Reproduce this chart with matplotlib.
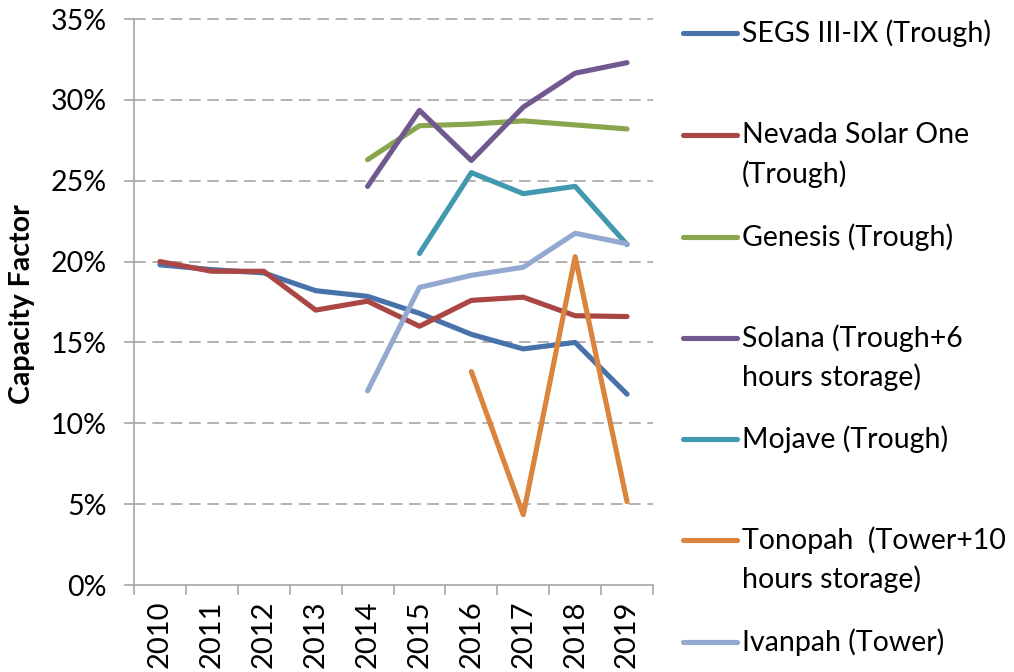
import matplotlib
matplotlib.use("Agg")
import matplotlib.pyplot as plt
from matplotlib.lines import Line2D
import numpy as np

plt.rcParams['font.family'] = ['Lato', 'DejaVu Sans']

years = ["2010", "2011", "2012", "2013", "2014", "2015", "2016", "2017", "2018", "2019"]
nan = np.nan
segs = [19.8, 19.5, 19.3, 18.2, 17.85, 16.8, 15.5, 14.6, 15.0, 11.8]
nevada = [20.0, 19.4, 19.4, 17.0, 17.55, 16.0, 17.6, 17.8, 16.65, 16.6]
genesis = [nan, nan, nan, nan, 26.3, 28.4, 28.5, 28.7, 28.45, 28.2]
solana = [nan, nan, nan, nan, 24.65, 29.35, 26.25, 29.55, 31.65, 32.3]
mojave = [nan, nan, nan, nan, nan, 20.5, 25.5, 24.2, 24.65, 21.05]
tonopah = [nan, nan, nan, nan, nan, nan, 13.2, 4.35, 20.3, 5.15]
ivanpah = [nan, nan, nan, nan, 12.0, 18.4, 19.15, 19.65, 21.75, 21.1]

series = [
    (segs, "#4773AA", ["SEGS III-IX (Trough)"]),
    (nevada, "#AA4643", ["Nevada Solar One", "(Trough)"]),
    (genesis, "#89A54E", ["Genesis (Trough)"]),
    (solana, "#71588F", ["Solana (Trough+6", "hours storage)"]),
    (mojave, "#4198AF", ["Mojave (Trough)"]),
    (tonopah, "#DB843D", ["Tonopah  (Tower+10", "hours storage)"]),
    (ivanpah, "#93A9CF", ["Ivanpah (Tower)"]),
]

W, H = 1014, 672
fig = plt.figure(figsize=(W / 100, H / 100), dpi=100)
left, right, top, bottom = 134, 653, 19, 585
ax = fig.add_axes([left / W, 1 - bottom / H, (right - left) / W, (bottom - top) / H])

x = np.arange(len(years))
for vals, col, _ in series:
    ax.plot(x, np.array(vals, dtype=float) / 100.0, color=col, lw=3.7,
            solid_capstyle='round', solid_joinstyle='round', zorder=3)

grid_col = "#A6A6A6"
ax.set_xlim(-0.5, len(years) - 0.5)
ax.set_ylim(0, 0.35)
yt = np.arange(0, 0.351, 0.05)
ax.set_yticks(yt)
ax.set_yticklabels([f"{int(round(v*100))}%" for v in yt], fontsize=20.5)
for v in yt[1:]:
    ax.axhline(v, color=grid_col, lw=1.2, ls=(0, (7, 4)), zorder=1, clip_on=False)

ax.set_xticks(x)
ax.set_xticklabels(years, rotation=90, fontsize=21)
ax.set_xticks(np.arange(-0.5, len(years), 1.0), minor=True)
ax.tick_params(axis='x', which='major', length=0, pad=11)
ax.tick_params(axis='x', which='minor', length=7, width=1.2, color=grid_col)
ax.tick_params(axis='y', length=7, width=1.2, color=grid_col, pad=12.5)

for s in ["top", "right"]:
    ax.spines[s].set_visible(False)
for s in ["left", "bottom"]:
    ax.spines[s].set_color(grid_col)
    ax.spines[s].set_linewidth(1.2)

fig.text(22 / W, 1 - 304 / H, "Capacity Factor", rotation=90, fontsize=20.5,
         fontweight='bold', ha='center', va='center')

# legend drawn manually
ys = [33, 135, 237, 338, 439, 540, 642]
for (vals, col, lines), yy in zip(series, ys):
    fy = 1 - yy / H
    fig.add_artist(Line2D([683 / W, 737 / W], [fy, fy], color=col, lw=3.7,
                          solid_capstyle='round', transform=fig.transFigure))
    for i, t in enumerate(lines):
        fig.text(742 / W, 1 - (yy + 39 * i) / H, t, fontsize=20.5,
                 ha='left', va='center')

fig.savefig("out.png", dpi=100)
